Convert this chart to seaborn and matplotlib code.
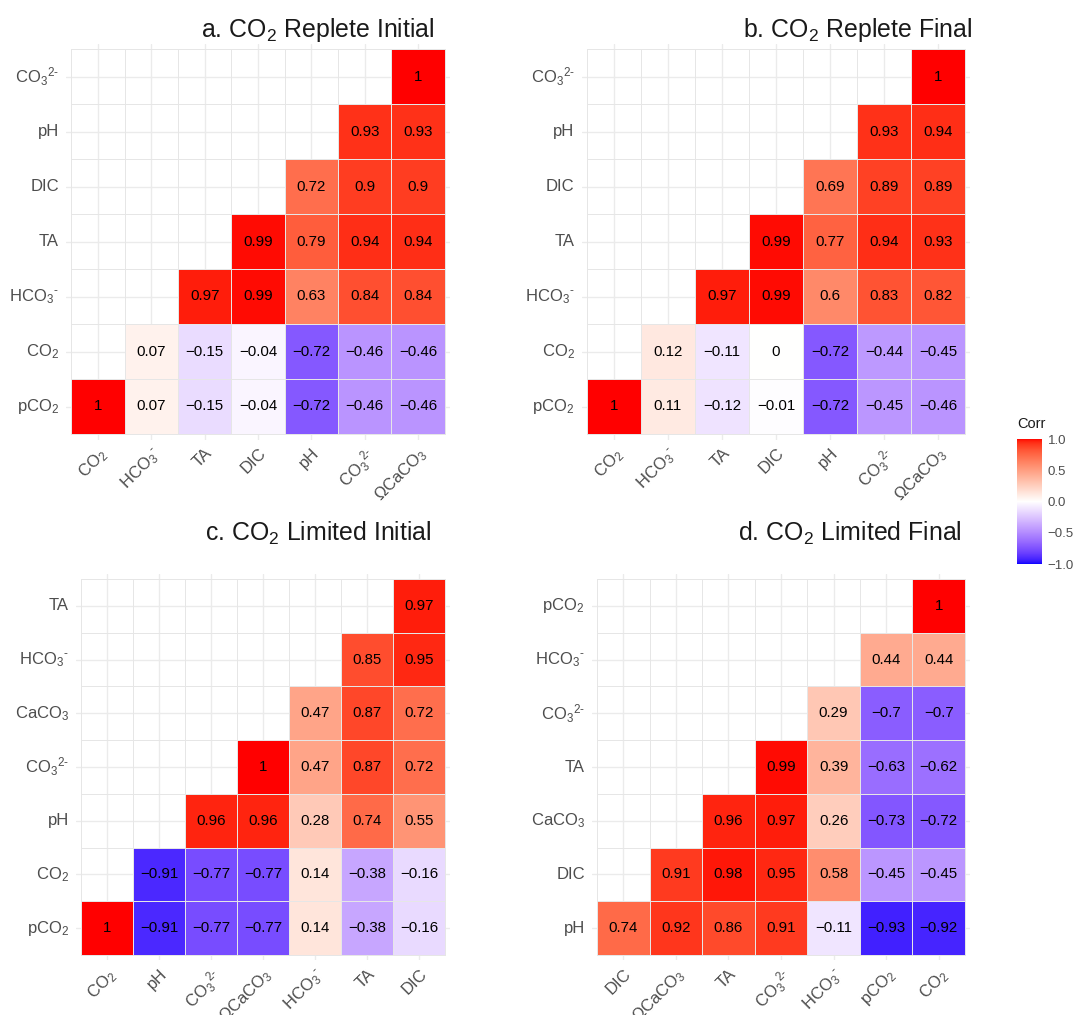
import numpy as np
import matplotlib
matplotlib.use("Agg")
import matplotlib.pyplot as plt
from matplotlib.colors import ListedColormap, Normalize
from matplotlib.cm import ScalarMappable
import seaborn as sns

nan = np.nan

# ---- variable labels -------------------------------------------------------
CO2 = r"CO$_2$"
PCO2 = r"pCO$_2$"
HCO3 = r"HCO$_3{}^{\text{-}}$"
CO3 = r"CO$_3{}^{2\text{-}}$"
OMEGA = r"ΩCaCO$_3$"
CACO3 = r"CaCO$_3$"

# ---- panel a: CO2 replete, initial (rows listed bottom to top) -------------
a_cols = [CO2, HCO3, "TA", "DIC", "pH", CO3, OMEGA]
a_rows = [PCO2, CO2, HCO3, "TA", "DIC", "pH", CO3]
a_vals = [
    [1, 0.07, -0.15, -0.04, -0.72, -0.46, -0.46],
    [nan, 0.07, -0.15, -0.04, -0.72, -0.46, -0.46],
    [nan, nan, 0.97, 0.99, 0.63, 0.84, 0.84],
    [nan, nan, nan, 0.99, 0.79, 0.94, 0.94],
    [nan, nan, nan, nan, 0.72, 0.9, 0.9],
    [nan, nan, nan, nan, nan, 0.93, 0.93],
    [nan, nan, nan, nan, nan, nan, 1],
]

# ---- panel b: CO2 replete, final --------------------------------------------
b_cols = [CO2, HCO3, "TA", "DIC", "pH", CO3, OMEGA]
b_rows = [PCO2, CO2, HCO3, "TA", "DIC", "pH", CO3]
b_vals = [
    [1, 0.11, -0.12, -0.01, -0.72, -0.45, -0.46],
    [nan, 0.12, -0.11, 0, -0.72, -0.44, -0.45],
    [nan, nan, 0.97, 0.99, 0.6, 0.83, 0.82],
    [nan, nan, nan, 0.99, 0.77, 0.94, 0.93],
    [nan, nan, nan, nan, 0.69, 0.89, 0.89],
    [nan, nan, nan, nan, nan, 0.93, 0.94],
    [nan, nan, nan, nan, nan, nan, 1],
]

# ---- panel c: CO2 limited, initial ------------------------------------------
c_cols = [CO2, "pH", CO3, OMEGA, HCO3, "TA", "DIC"]
c_rows = [PCO2, CO2, "pH", CO3, CACO3, HCO3, "TA"]
c_vals = [
    [1, -0.91, -0.77, -0.77, 0.14, -0.38, -0.16],
    [nan, -0.91, -0.77, -0.77, 0.14, -0.38, -0.16],
    [nan, nan, 0.96, 0.96, 0.28, 0.74, 0.55],
    [nan, nan, nan, 1, 0.47, 0.87, 0.72],
    [nan, nan, nan, nan, 0.47, 0.87, 0.72],
    [nan, nan, nan, nan, nan, 0.85, 0.95],
    [nan, nan, nan, nan, nan, nan, 0.97],
]

# ---- panel d: CO2 limited, final --------------------------------------------
d_cols = ["DIC", OMEGA, "TA", CO3, HCO3, PCO2, CO2]
d_rows = ["pH", "DIC", CACO3, "TA", CO3, HCO3, PCO2]
d_vals = [
    [0.74, 0.92, 0.86, 0.91, -0.11, -0.93, -0.92],
    [nan, 0.91, 0.98, 0.95, 0.58, -0.45, -0.45],
    [nan, nan, 0.96, 0.97, 0.26, -0.73, -0.72],
    [nan, nan, nan, 0.99, 0.39, -0.63, -0.62],
    [nan, nan, nan, nan, 0.29, -0.7, -0.7],
    [nan, nan, nan, nan, nan, 0.44, 0.44],
    [nan, nan, nan, nan, nan, nan, 1],
]

titles = [r"a. CO$_2$ Replete Initial", r"b. CO$_2$ Replete Final",
          r"c. CO$_2$ Limited Initial", r"d. CO$_2$ Limited Final"]

# ---- style ------------------------------------------------------------------
sns.set_theme(style="white")
plt.rcParams["font.family"] = ["Liberation Sans", "DejaVu Sans"]
plt.rcParams["mathtext.fontset"] = "custom"
plt.rcParams["mathtext.rm"] = "Liberation Sans"
plt.rcParams["mathtext.it"] = "Liberation Sans:italic"
plt.rcParams["mathtext.bf"] = "Liberation Sans:bold"
plt.rcParams["mathtext.default"] = "regular"


# ---- blue-white-red diverging scale interpolated in CIELAB ------------------
_M = np.array([[0.4124564, 0.3575761, 0.1804375],
               [0.2126729, 0.7151522, 0.0721750],
               [0.0193339, 0.1191920, 0.9503041]])
_Minv = np.linalg.inv(_M)
_WHITE = np.array([0.95047, 1.0, 1.08883])
_D = 6 / 29


def srgb_to_lab(rgb):
    c = np.asarray(rgb, float)
    lin = np.where(c <= 0.04045, c / 12.92, ((c + 0.055) / 1.055) ** 2.4)
    t = (_M @ lin) / _WHITE
    f = np.where(t > _D ** 3, np.cbrt(t), t / (3 * _D ** 2) + 4 / 29)
    return np.array([116 * f[1] - 16, 500 * (f[0] - f[1]), 200 * (f[1] - f[2])])


def lab_to_srgb(lab):
    L, a, b = lab
    fy = (L + 16) / 116
    f = np.array([fy + a / 500, fy, fy - b / 200])
    t = np.where(f > _D, f ** 3, 3 * _D ** 2 * (f - 4 / 29))
    lin = _Minv @ (t * _WHITE)
    lin = np.clip(lin, 0, 1)
    c = np.where(lin <= 0.0031308, 12.92 * lin, 1.055 * lin ** (1 / 2.4) - 0.055)
    return np.clip(c, 0, 1)


low, mid, high = srgb_to_lab([0, 0, 1]), srgb_to_lab([1, 1, 1]), srgb_to_lab([1, 0, 0])
ramp = []
for s in np.linspace(0, 1, 512):
    if s <= 0.5:
        w = s / 0.5
        lab = low * (1 - w) + mid * w
    else:
        w = (s - 0.5) / 0.5
        lab = mid * (1 - w) + high * w
    ramp.append(lab_to_srgb(lab))
corr_cmap = ListedColormap(ramp)


def fmt_val(v):
    if np.isnan(v):
        return ""
    return f"{v:g}".replace("-", "\u2212")


# ---- figure -----------------------------------------------------------------
W, H = 1073, 1015
fig = plt.figure(figsize=(W / 100, H / 100), dpi=100)
fig.patch.set_facecolor("white")

# panel boxes in pixels: left, top, right, bottom
boxes = [(66, 43.5, 450, 439.5), (581.6, 43.5, 970.4, 439.5),
         (75.8, 573.6, 450.2, 960.4), (591.7, 573.6, 970.3, 960.4)]
title_pos = [(435, 37), (972, 37), (432, 541), (962, 541)]

panels = [(a_cols, a_rows, a_vals), (b_cols, b_rows, b_vals),
          (c_cols, c_rows, c_vals), (d_cols, d_rows, d_vals)]

for (cols, rows, vals), (l, t, r, b), title, (tx, ty) in zip(panels, boxes, titles, title_pos):
    ax = fig.add_axes([l / W, 1 - b / H, (r - l) / W, (b - t) / H])
    mat = np.array(vals, float)[::-1]          # top row first for the heatmap
    row_labels = rows[::-1]
    annot = np.vectorize(fmt_val)(mat)
    sns.heatmap(mat, ax=ax, cmap=corr_cmap, vmin=-1, vmax=1, cbar=False,
                mask=np.isnan(mat), annot=annot, fmt="",
                annot_kws={"color": "black", "fontsize": 10.8},
                linewidths=0.5, linecolor="#E6E6E6",
                xticklabels=cols, yticklabels=row_labels, square=False)
    n = len(cols)
    ax.set_xlim(-0.1, n + 0.1)
    ax.set_ylim(n + 0.1, -0.1)
    ax.set_axisbelow(True)
    ax.grid(True, color="#EBEBEB", linewidth=1.0)
    for s in ax.spines.values():
        s.set_visible(False)
    ax.tick_params(axis="both", length=0, colors="#4D4D4D", labelsize=12)
    ax.tick_params(axis="x", pad=4)
    ax.tick_params(axis="y", pad=5)
    plt.setp(ax.get_xticklabels(), rotation=45, ha="right", va="top",
             rotation_mode="anchor", color="#4D4D4D")
    plt.setp(ax.get_yticklabels(), rotation=0, color="#4D4D4D")
    ax.set_xlabel("")
    ax.set_ylabel("")
    fig.text(tx / W, 1 - ty / H, title, ha="right", va="baseline",
             fontsize=17.9, color="#1A1A1A")

# ---- shared colour bar ------------------------------------------------------
cax = fig.add_axes([1017 / W, 1 - 564 / H, 25 / W, 125 / H])
sm = ScalarMappable(norm=Normalize(-1, 1), cmap=corr_cmap)
cb = fig.colorbar(sm, cax=cax, ticks=[-1, -0.5, 0, 0.5, 1])
cb.outline.set_visible(False)
cb.ax.set_yticklabels(["\u22121.0", "\u22120.5", "0.0", "0.5", "1.0"])
cax.yaxis.set_ticks_position("both")
cax.tick_params(axis="y", direction="in", length=5, width=0.8, color="white",
                labelsize=9.5, labelcolor="#4D4D4D", pad=4,
                left=True, right=True, labelleft=False, labelright=True)
fig.text(1017 / W, 1 - 428 / H, "Corr", ha="left", va="baseline",
         fontsize=10.5, color="#1A1A1A")

fig.savefig("out.png", dpi=100, facecolor="white")
